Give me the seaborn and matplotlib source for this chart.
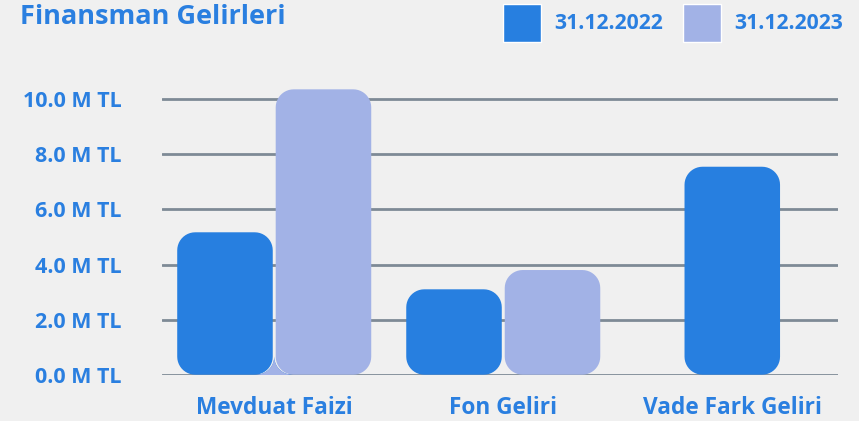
import numpy as np
import pandas as pd
import seaborn as sns
import matplotlib.pyplot as plt
from matplotlib.patches import PathPatch
from matplotlib.path import Path

# data (millions of TL)
categories = ["Mevduat Faizi", "Fon Geliri", "Vade Fark Geliri"]
series = ["31.12.2022", "31.12.2023"]
values_2022 = [5.17, 3.10, 7.55]
values_2023 = [10.36, 3.80, np.nan]
y_ticks = [0, 2, 4, 6, 8, 10]

colors = ["#277fe0", "#a2b2e6"]
text_color = "#2a7fe0"
bg = "#f0f0f0"
grid_color = "#7e8a96"
font = "Open Sans"


def rounded_rect(x, y, w, h, rx, ry):
    # rectangle with elliptic corners (rx, ry in data units)
    t = np.linspace(0, np.pi / 2, 12)
    pts = []
    for cx, cy, a0 in [(x + w - rx, y + h - ry, 0), (x + rx, y + h - ry, np.pi / 2),
                       (x + rx, y + ry, np.pi), (x + w - rx, y + ry, 1.5 * np.pi)]:
        pts += list(zip(cx + rx * np.cos(t + a0), cy + ry * np.sin(t + a0)))
    pts.append(pts[0])
    return Path(pts, closed=True)


df = pd.DataFrame({
    "kategori": categories * 2,
    "donem": [series[0]] * 3 + [series[1]] * 3,
    "deger": values_2022 + values_2023,
}).dropna()

sns.set_theme(style="whitegrid", rc={
    "axes.facecolor": bg,
    "figure.facecolor": bg,
    "grid.color": grid_color,
    "grid.linewidth": 2,
})
plt.rcParams["font.family"] = [font, "DejaVu Sans"]

fig = plt.figure(figsize=(8.59, 4.21), dpi=100)
ax = fig.add_axes([162 / 859, 1 - 374.7 / 421, 676 / 859, 303 / 421])

sns.barplot(data=df, x="kategori", y="deger", hue="donem", order=categories,
            hue_order=series, palette=colors, width=0.86, gap=0.03,
            saturation=1, ax=ax)

# swap the square bars for rounded ones, centre lone bars in their group
bars = list(ax.patches)
groups = {}
for b in bars:
    groups.setdefault(int(round(b.get_x() + b.get_width() / 2)), []).append(b)
radius = 18  # px
px_x = 1 / 229.0
px_y = 1 / 27.55
for idx, grp in groups.items():
    for b in grp:
        x, w, h = b.get_x(), b.get_width(), b.get_height()
        if len(grp) == 1:
            x = idx - w / 2
        p = PathPatch(rounded_rect(x, 0, w, h, radius * px_x, radius * px_y),
                      facecolor=b.get_facecolor(), edgecolor="none", zorder=3)
        b.remove()
        ax.add_patch(p)

ax.set_xlim(-0.490, 2.4616)
ax.set_ylim(0, 11)
ax.set_yticks(y_ticks)
ax.set_yticklabels([f"{v:.1f} M TL" for v in y_ticks])
ax.grid(axis="x", visible=False)
ax.set_axisbelow(True)
ax.set_xlabel("")
ax.set_ylabel("")
for s in ax.spines.values():
    s.set_visible(False)
ax.tick_params(axis="y", length=0, pad=29, labelsize=15.5, labelcolor=text_color)
ax.tick_params(axis="x", length=0, pad=15, labelsize=16.3, labelcolor=text_color)
for t in ax.get_xticklabels() + ax.get_yticklabels():
    t.set_fontweight("bold")

# legend at the top right
old = ax.get_legend()
handles = old.legend_handles
labels = [t.get_text() for t in old.get_texts()]
old.remove()
leg_size = 15.2
fs_px = leg_size * 100 / 72
fig.legend(handles, labels, loc="upper right", ncol=2,
           bbox_to_anchor=(843 / 859, 1 - 4 / 421), frameon=False,
           borderaxespad=0, borderpad=0,
           handlelength=38 / fs_px, handleheight=(38 / fs_px - 0.245) / 0.65,
           handletextpad=13 / fs_px, columnspacing=20 / fs_px,
           prop={"family": font, "weight": "bold", "size": leg_size},
           labelcolor=text_color)

fig.text(20 / 859, 1 - 24.3 / 421, "Finansman Gelirleri", fontsize=19.5,
         fontweight="bold", color=text_color, va="baseline")

fig.savefig("out.png", dpi=100, facecolor=bg)
